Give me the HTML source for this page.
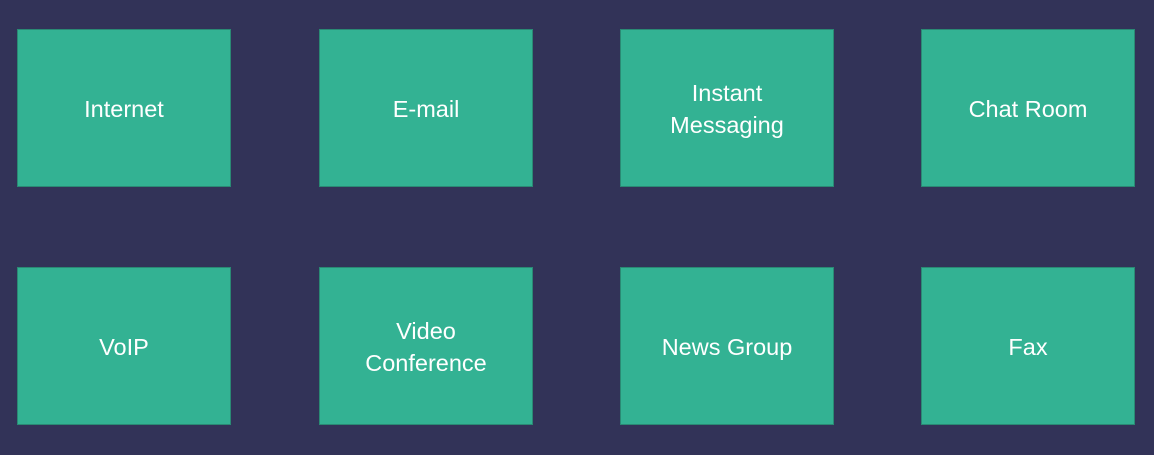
<!DOCTYPE html>
<html><head><style>
body{margin:0;width:1154px;height:455px;background:#323358;overflow:hidden;font-family:"Liberation Sans","DejaVu Sans",sans-serif}
.b{position:absolute;width:212px;height:156px;background:#33b293;border:1px solid #2a8a74;display:flex;align-items:center;justify-content:center;text-align:center;color:#fff;font-size:23.5px;line-height:32px;padding-top:2px;box-sizing:content-box}
.b{height:154px}
</style></head><body>
<div class="b" style="left:17px;top:29px">Internet</div>
<div class="b" style="left:319px;top:29px">E-mail</div>
<div class="b" style="left:620px;top:29px">Instant<br>Messaging</div>
<div class="b" style="left:921px;top:29px">Chat Room</div>
<div class="b" style="left:17px;top:267px">VoIP</div>
<div class="b" style="left:319px;top:267px">Video<br>Conference</div>
<div class="b" style="left:620px;top:267px">News Group</div>
<div class="b" style="left:921px;top:267px">Fax</div>
</body></html>
